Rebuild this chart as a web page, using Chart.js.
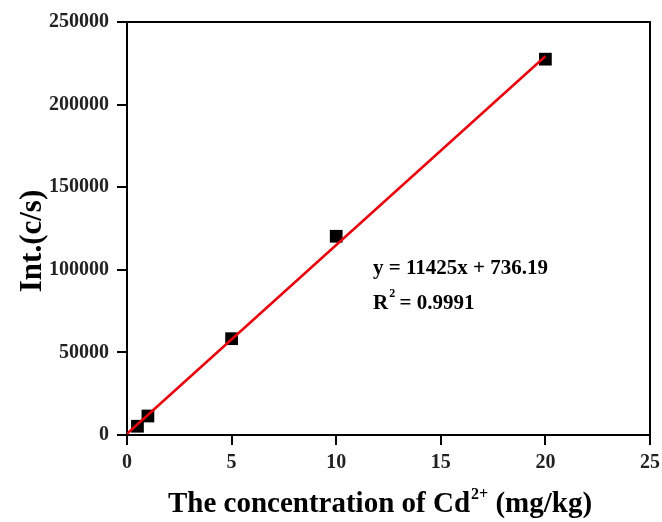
<!DOCTYPE html>
<html lang="en">
<head>
    <meta charset="UTF-8">
    <title>Cd2+ calibration curve</title>
    <style>
        * { margin: 0; padding: 0; box-sizing: border-box; }
        body { background: #fff; width: 662px; height: 522px; overflow: hidden; }
        canvas { display: block; }
    </style>
    <script src="https://cdn.jsdelivr.net/npm/chart.js"></script>
</head>
<body>
    <canvas id="calib" width="662" height="522"></canvas>

    <script>
        // measured points
        const concentrations = [0.5, 1, 5, 10, 20];
        const intensities = [5300, 11500, 58300, 120300, 227500];

        // fitted line y = 11425x + 736.19, drawn across the measured range
        const slope = 11425;
        const intercept = 736.19;
        const fitX = [0, 20];
        const fitY = fitX.map(x => slope * x + intercept);

        const xTicks = [0, 5, 10, 15, 20, 25];
        const yTicks = [0, 50000, 100000, 150000, 200000, 250000];

        const serif = "'Liberation Serif', 'Times New Roman', serif";

        // frame on top/right, axis titles and the fit equation
        const extras = {
            id: 'extras',
            afterDraw(chart) {
                const { ctx, chartArea: a } = chart;
                ctx.save();
                ctx.strokeStyle = '#000';
                ctx.lineWidth = 2;
                ctx.beginPath();
                ctx.moveTo(a.left, a.top);
                ctx.lineTo(a.right, a.top);
                ctx.lineTo(a.right, a.bottom);
                ctx.stroke();

                ctx.fillStyle = '#000';
                ctx.textBaseline = 'alphabetic';

                // x title with superscript
                const big = 'bold 29px ' + serif;
                const sup = 'bold 16px ' + serif;
                const p1 = 'The concentration of Cd', p2 = '2+', p3 = ' (mg/kg)';
                ctx.font = big; const w1 = ctx.measureText(p1).width, w3 = ctx.measureText(p3).width;
                ctx.font = sup; const w2 = ctx.measureText(p2).width;
                let x = 380 - (w1 + w2 + w3 + 1) / 2;
                const base = 512;
                ctx.font = big; ctx.textAlign = 'left';
                ctx.fillText(p1, x, base); x += w1;
                ctx.font = sup; ctx.fillText(p2, x + 1, base - 13); x += w2 + 1;
                ctx.font = big; ctx.fillText(p3, x, base);

                // y title
                ctx.save();
                ctx.translate(41, 241);
                ctx.rotate(-Math.PI / 2);
                ctx.font = 'bold 31px ' + serif;
                ctx.textAlign = 'center';
                ctx.fillText('Int.(c/s)', 0, 0);
                ctx.restore();

                // equation and R^2
                ctx.font = 'bold 21px ' + serif;
                ctx.textAlign = 'left';
                ctx.fillText('y = ' + slope + 'x + ' + intercept, 373, 274);
                ctx.fillText('R', 373, 309);
                const rw = ctx.measureText('R').width;
                ctx.font = 'bold 12px ' + serif;
                ctx.fillText('2', 373 + rw + 1, 297);
                ctx.font = 'bold 21px ' + serif;
                ctx.fillText(' = 0.9991', 373 + rw + 6, 309);
                ctx.restore();
            }
        };

        new Chart(document.getElementById('calib'), {
            type: 'scatter',
            data: {
                datasets: [
                    {
                        type: 'line',
                        label: 'fit',
                        data: fitX.map((x, i) => ({ x: x, y: fitY[i] })),
                        borderColor: '#e8000b',
                        borderWidth: 2.5,
                        pointRadius: 0,
                        fill: false
                    },
                    {
                        label: 'measured',
                        data: concentrations.map((x, i) => ({ x: x, y: intensities[i] })),
                        pointStyle: 'rect',
                        pointRadius: 9,
                        backgroundColor: '#000',
                        borderColor: '#000',
                        borderWidth: 0
                    }
                ]
            },
            options: {
                responsive: false,
                animation: false,
                devicePixelRatio: 1,
                layout: { padding: { top: 22, right: 12, left: 0, bottom: 0 } },
                plugins: { legend: { display: false }, tooltip: { enabled: false } },
                scales: {
                    x: {
                        type: 'linear', min: 0, max: 25,
                        afterBuildTicks: s => { s.ticks = xTicks.map(v => ({ value: v })); },
                        afterFit: s => { s.height = 87; s.paddingLeft = 0; s.paddingRight = 0; },
                        grid: { drawOnChartArea: false, tickLength: 10, color: '#000', lineWidth: 2 },
                        border: { color: '#000', width: 2 },
                        ticks: { autoSkip: false, maxRotation: 0, color: '#222', padding: 6, font: { family: serif, size: 20, weight: 'bold' } }
                    },
                    y: {
                        type: 'linear', min: 0, max: 250000,
                        afterBuildTicks: s => { s.ticks = yTicks.map(v => ({ value: v })); },
                        afterFit: s => { s.width = 127; s.paddingTop = 0; s.paddingBottom = 0; },
                        grid: { drawOnChartArea: false, tickLength: 10, color: '#000', lineWidth: 2 },
                        border: { color: '#000', width: 2 },
                        ticks: { autoSkip: false, color: '#222', padding: 8, font: { family: serif, size: 20, weight: 'bold' }, callback: v => String(v) }
                    }
                }
            },
            plugins: [extras]
        });
    </script>
</body>
</html>
